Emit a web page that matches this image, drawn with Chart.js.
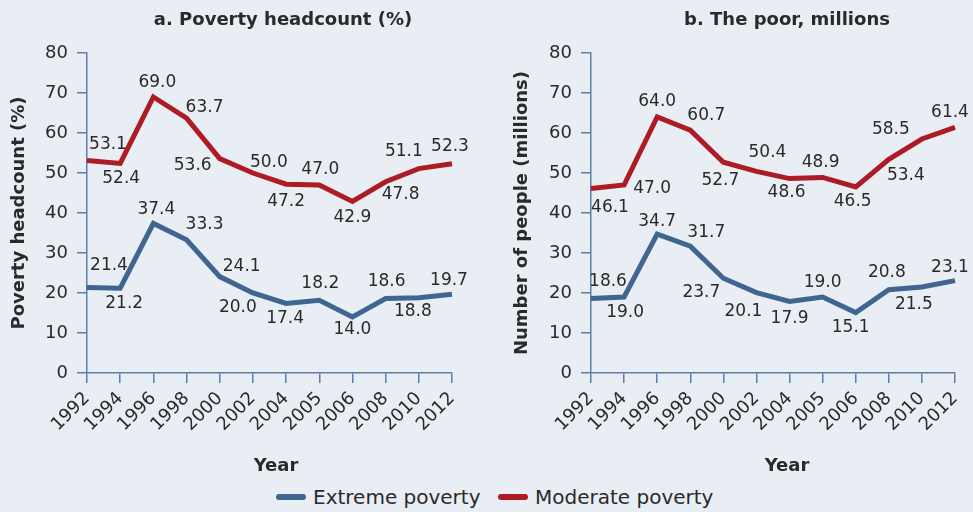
<!DOCTYPE html>
<html>
<head>
<meta charset="utf-8">
<script src="https://cdn.jsdelivr.net/npm/chart.js@4.4.0/dist/chart.umd.min.js"></script>
<style>
  body { margin: 0; width: 973px; height: 512px; overflow: hidden; position: relative;
         background: #e9edf4; font-family: "DejaVu Sans", sans-serif; color: #2a2a2a; }
  canvas { position: absolute; top: 0; }
  #chartA { left: 0; }
  #chartB { left: 490px; }
  .title { position: absolute; width: 400px; margin-left: -200px; text-align: center;
           font-weight: bold; font-size: 18px; line-height: 22px; }
  .leg-line { position: absolute; height: 6px; width: 30px; border-radius: 3px; top: 494px; }
  .leg-text { position: absolute; top: 485px; font-size: 20px; line-height: 24px; }
</style>
</head>
<body>
<canvas id="chartA" width="490" height="480"></canvas>
<canvas id="chartB" width="483" height="480"></canvas>

<div class="title" style="left:283px;top:8px">a. Poverty headcount (%)</div>
<div class="title" style="left:787px;top:8px">b. The poor, millions</div>
<div class="title" style="left:276px;top:454px">Year</div>
<div class="title" style="left:787px;top:454px">Year</div>

<div class="leg-line" style="left:276px;background:#3f6690"></div>
<div class="leg-text" style="left:313px">Extreme poverty</div>
<div class="leg-line" style="left:498px;background:#ad1c24"></div>
<div class="leg-text" style="left:535px">Moderate poverty</div>

<script>
const years = ['1992', '1994', '1996', '1998', '2000', '2002', '2004', '2005', '2006', '2008', '2010', '2012'];
const yTicks = [0, 10, 20, 30, 40, 50, 60, 70, 80];

// panel a: poverty headcount (%)
const headcountExtreme = [21.4, 21.2, 37.4, 33.3, 24.1, 20.0, 17.4, 18.2, 14.0, 18.6, 18.8, 19.7];
const headcountModerate = [53.1, 52.4, 69.0, 63.7, 53.6, 50.0, 47.2, 47.0, 42.9, 47.8, 51.1, 52.3];

// panel b: the poor, millions
const poorExtreme = [18.6, 19.0, 34.7, 31.7, 23.7, 20.1, 17.9, 19.0, 15.1, 20.8, 21.5, 23.1];
const poorModerate = [46.1, 47.0, 64.0, 60.7, 52.7, 50.4, 48.6, 48.9, 46.5, 53.4, 58.5, 61.4];

// where each value label sits relative to its point [dx, dy]
const offAExtreme = [[22,-22],[4,15],[3,-14],[18,-15],[22,-10],[-15,15],[-1,15],[1,-17],[0,13],[1,-17],[-6,14],[-3,-14]];
const offAModerate = [[21,-16],[1,15],[4,-14],[18,-11],[-27,7],[16,-10],[0,17],[1,-15],[0,16],[15,13],[-15,-17],[-2,-17]];
const offBExtreme = [[17,-17],[1,16],[0,-13],[16,-14],[-22,14],[-13,19],[0,17],[0,-14],[-5,15],[-2,-17],[-8,18],[-5,-13]];
const offBModerate = [[19,19],[28,4],[0,-15],[16,-15],[-3,18],[11,-19],[-3,14],[-2,-15],[-3,15],[17,16],[-31,-9],[-5,-15]];

const BLUE = '#3f6690';
const RED = '#ad1c24';
const AXIS = '#5b80aa';
const TEXT = '#2a2a2a';
const FONT = '"DejaVu Sans", sans-serif';

const pointLabels = {
  id: 'pointLabels',
  afterDatasetsDraw(chart) {
    const ctx = chart.ctx;
    ctx.save();
    ctx.font = '17px ' + FONT;
    ctx.fillStyle = TEXT;
    ctx.textAlign = 'center';
    ctx.textBaseline = 'middle';
    chart.data.datasets.forEach((ds, i) => {
      const meta = chart.getDatasetMeta(i);
      meta.data.forEach((pt, j) => {
        const off = ds.labelOffsets[j];
        ctx.fillText(ds.data[j].toFixed(1), pt.x + off[0], pt.y + off[1]);
      });
    });
    ctx.restore();
  }
};

function makeChart(id, yTitle, extreme, moderate, offExt, offMod, axisLeft, padRight, yTitlePad) {
  return new Chart(document.getElementById(id), {
    type: 'line',
    data: {
      labels: years,
      datasets: [
        { label: 'Moderate poverty', data: moderate, borderColor: RED, borderWidth: 5,
          pointRadius: 0, tension: 0, labelOffsets: offMod },
        { label: 'Extreme poverty', data: extreme, borderColor: BLUE, borderWidth: 5,
          pointRadius: 0, tension: 0, labelOffsets: offExt }
      ]
    },
    options: {
      responsive: false,
      animation: false,
      layout: { padding: { left: 0, right: padRight, top: 53, bottom: 0 } },
      plugins: {
        legend: { display: false },
        tooltip: { enabled: false },
        title: { display: false }
      },
      scales: {
        x: {
          offset: false,
          grid: { display: true, drawOnChartArea: false, drawTicks: true, tickLength: 10,
                  color: AXIS, lineWidth: 1.5 },
          border: { display: true, color: AXIS, width: 1.5 },
          ticks: { color: TEXT, font: { family: FONT, size: 18 }, maxRotation: 45, minRotation: 45,
                   autoSkip: false, padding: 5 },
          afterFit(scale) {
            scale.height = 107;
            scale.paddingLeft = 0;
            scale.paddingRight = 0;
          }
        },
        y: {
          min: 0, max: 80,
          afterBuildTicks(scale) { scale.ticks = yTicks.map(v => ({ value: v })); },
          grid: { display: true, drawOnChartArea: false, drawTicks: true, tickLength: 10,
                  color: AXIS, lineWidth: 1.5 },
          border: { display: true, color: AXIS, width: 1.5 },
          ticks: { color: TEXT, font: { family: FONT, size: 18 }, padding: 9 },
          title: { display: true, text: yTitle, color: TEXT,
                   font: { family: FONT, size: 18, weight: 'bold' }, padding: { top: yTitlePad, bottom: 0 } },
          afterFit(scale) { scale.width = axisLeft; }
        }
      }
    },
    plugins: [pointLabels]
  });
}

makeChart('chartA', 'Poverty headcount (%)',
  headcountExtreme, headcountModerate, offAExtreme, offAModerate, 87, 38, 9);
makeChart('chartB', 'Number of people (millions)',
  poorExtreme, poorModerate, offBExtreme, offBModerate, 101, 18, 22);
</script>
</body>
</html>
